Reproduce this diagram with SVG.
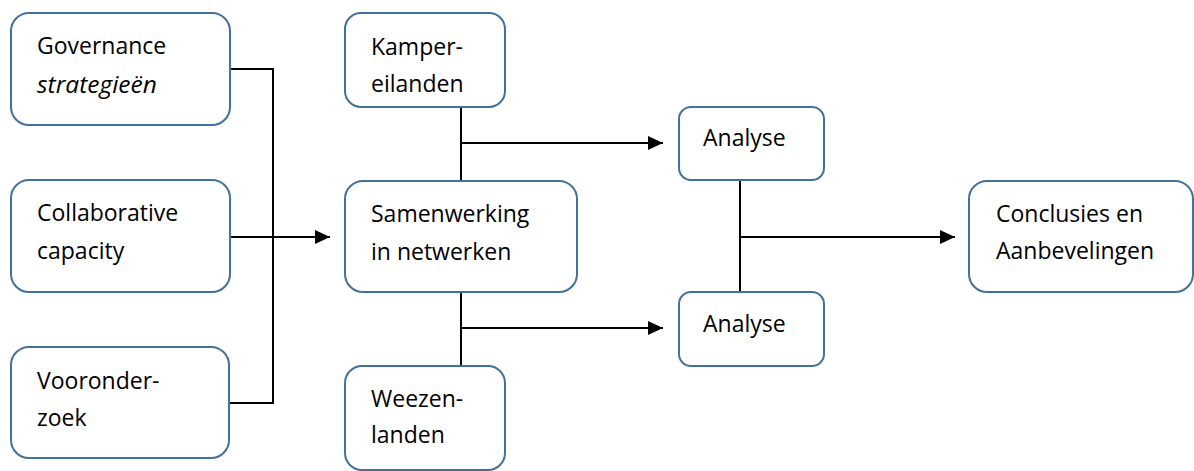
<svg xmlns="http://www.w3.org/2000/svg" width="1194" height="471" viewBox="0 0 1194 471">
<style>
.box{fill:#fff;stroke:#41719c;stroke-width:2}
.t{font-family:"Open Sans","Liberation Sans",sans-serif;font-size:23px;fill:#000}
.i{font-style:italic;font-size:24.5px}
.c{fill:none;stroke:#000;stroke-width:2}
</style>
<defs>
<marker id="ah" markerUnits="userSpaceOnUse" markerWidth="16" markerHeight="16" refX="15" refY="7" orient="auto">
<path d="M0,0 L15,7 L0,14 Z" fill="#000"/>
</marker>
</defs>
<g id="connectors">
<path class="c" d="M230,69 H273 V403 H229"/>
<path class="c" d="M230,237 H330" marker-end="url(#ah)"/>
<path class="c" d="M461,107 V181"/>
<path class="c" d="M461,143 H663" marker-end="url(#ah)"/>
<path class="c" d="M461,292 V366"/>
<path class="c" d="M461,328 H663" marker-end="url(#ah)"/>
<path class="c" d="M740,180 V292"/>
<path class="c" d="M740,237 H955" marker-end="url(#ah)"/>
</g>
<g id="n-governance">
<rect class="box" x="11" y="13" width="219" height="112" rx="18"/>
<text class="t" x="37" y="54">Governance</text>
<text class="t i" x="37" y="93">strategieën</text>
</g>
<g id="n-collaborative">
<rect class="box" x="11" y="180" width="219" height="112" rx="18"/>
<text class="t" x="37" y="221">Collaborative</text>
<text class="t" x="37" y="259">capacity</text>
</g>
<g id="n-vooronderzoek">
<rect class="box" x="11" y="347" width="218" height="111" rx="18"/>
<text class="t" x="37" y="389">Vooronder-</text>
<text class="t" x="37" y="426">zoek</text>
</g>
<g id="n-kamper">
<rect class="box" x="345" y="13" width="160" height="94" rx="16"/>
<text class="t" x="371" y="55">Kamper-</text>
<text class="t" x="371" y="92">eilanden</text>
</g>
<g id="n-samenwerking">
<rect class="box" x="345" y="181" width="232" height="111" rx="18"/>
<text class="t" x="371" y="222">Samenwerking</text>
<text class="t" x="371" y="260">in netwerken</text>
</g>
<g id="n-weezen">
<rect class="box" x="345" y="366" width="160" height="104" rx="17"/>
<text class="t" x="371" y="407">Weezen-</text>
<text class="t" x="371" y="443">landen</text>
</g>
<g id="n-analyse1">
<rect class="box" x="679" y="107" width="145" height="73" rx="12"/>
<text class="t" x="703" y="146">Analyse</text>
</g>
<g id="n-analyse2">
<rect class="box" x="679" y="292" width="145" height="74" rx="12"/>
<text class="t" x="703" y="332">Analyse</text>
</g>
<g id="n-conclusies">
<rect class="box" x="969" y="181" width="224" height="111" rx="18"/>
<text class="t" x="996" y="222">Conclusies en</text>
<text class="t" x="996" y="259">Aanbevelingen</text>
</g>
</svg>
